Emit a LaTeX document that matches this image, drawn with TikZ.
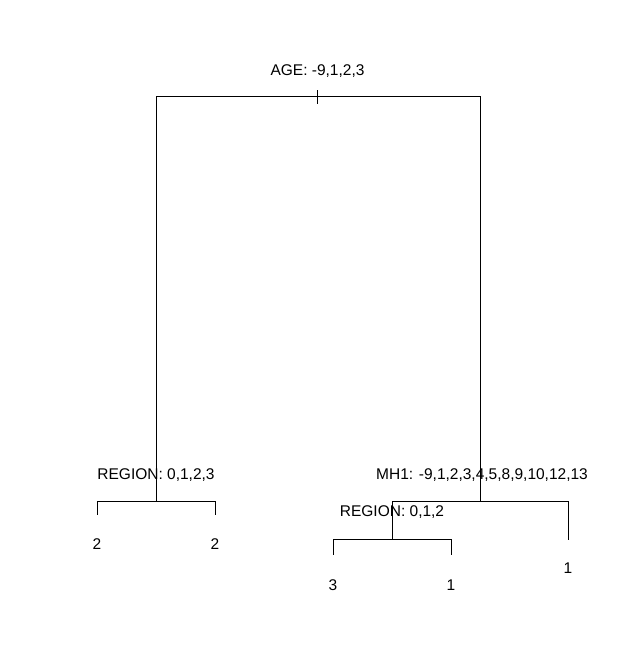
\documentclass[tikz,border=0pt]{standalone}
\usepackage{fontspec}
\setmainfont{Liberation Sans}
\usetikzlibrary{positioning,calc}
\def\wTree{1pt}
\tikzset{
  tree/.style={font=\fontsize{15.5}{18}\selectfont},
  edge/.style={draw=black, line width=\wTree, line cap=rect},
  splitlab/.style={anchor=base, inner sep=0pt},
  leaflab/.style={anchor=base, inner sep=0pt},
}

\begin{document}
\begin{tikzpicture}[tree, x=1pt, y=-1pt]
\useasboundingbox (0,0) rectangle (628,671);
% pixel grid of the plot, y grows downwards
% ---- split points and leaf ends
\coordinate (root) at (317.5,97);
\coordinate (nL)   at (156,501);
\coordinate (nR)   at (480,501);
\coordinate (nRL)  at (392,539);
\coordinate (lf1)  at (97,514);
\coordinate (lf2)  at (215,514);
\coordinate (lf3)  at (333,554);
\coordinate (lf4)  at (451,554);
\coordinate (lf5)  at (568,539);

% ---- split labels
\node[splitlab] (tAge)  at (317.5,75.5) {AGE: -9,1,2,3};
\node[splitlab] (tRegL) at (156,479.5)  {REGION: 0,1,2,3};
\node[splitlab] (tMh)   at (482,479.5)  {MH1: -9,1,2,3,4,5,8,9,10,12,13};
\node[splitlab] (tRegR) at (392,516.5)  {REGION: 0,1,2};

% ---- leaf labels
\node[leaflab] (y1) at (97,549.5)  {2};
\node[leaflab] (y2) at (215,549.5) {2};
\node[leaflab] (y3) at (333,590.5) {3};
\node[leaflab] (y4) at (451,590.5) {1};
\node[leaflab] (y5) at (568,573.5) {1};

% ---- branches
\draw[edge] (nL) -- (nL |- root) -- (nR |- root) -- (nR);
\draw[edge] ([yshift=6pt]root) -- ([yshift=-7pt]root);
\draw[edge] (lf1) -- (lf1 |- nL) -- (lf2 |- nL) -- (lf2);
\draw[edge] (nRL) -- (nRL |- nR) -- (lf5 |- nR) -- (lf5);
\draw[edge] (lf3) -- (lf3 |- nRL) -- (lf4 |- nRL) -- (lf4);
\end{tikzpicture}
\end{document}
